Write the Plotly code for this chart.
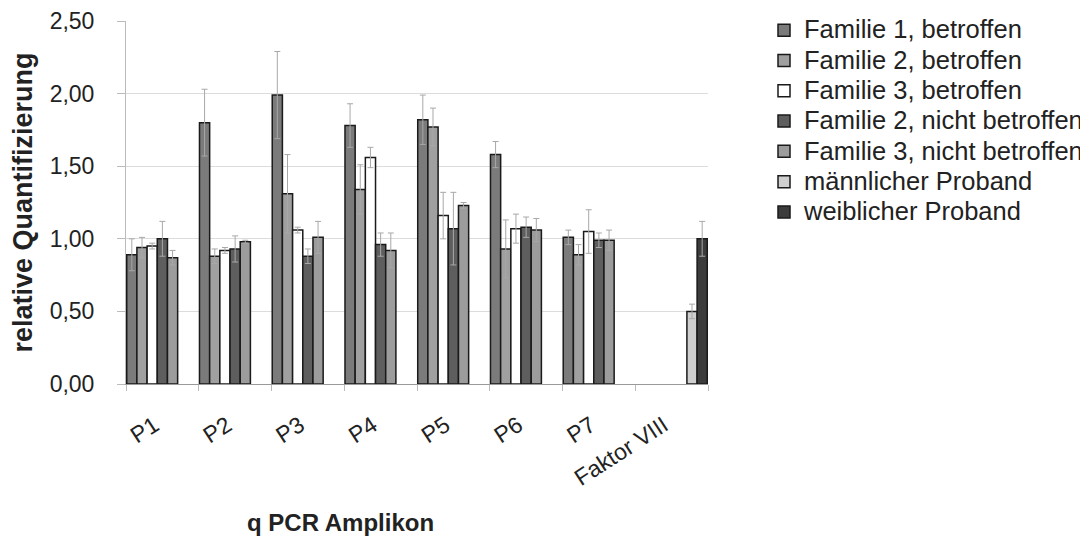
import plotly.graph_objects as go

categories = ["P1", "P2", "P3", "P4", "P5", "P6", "P7", "Faktor VIII"]

series_names = [
    "Familie 1, betroffen",
    "Familie 2, betroffen",
    "Familie 3, betroffen",
    "Familie 2, nicht betroffen",
    "Familie 3, nicht betroffen",
    "männlicher Proband",
    "weiblicher Proband",
]

fam1_betr = [0.89, 1.80, 1.99, 1.78, 1.82, 1.58, 1.01, None]
fam2_betr = [0.94, 0.88, 1.31, 1.34, 1.77, 0.93, 0.89, None]
fam3_betr = [0.95, 0.92, 1.06, 1.56, 1.16, 1.07, 1.05, None]
fam2_nicht = [1.00, 0.93, 0.88, 0.96, 1.07, 1.08, 0.99, None]
fam3_nicht = [0.87, 0.98, 1.01, 0.92, 1.23, 1.06, 0.99, None]
maennlich = [None, None, None, None, None, None, None, 0.50]
weiblich = [None, None, None, None, None, None, None, 1.00]

fam1_err = [0.11, 0.23, 0.30, 0.15, 0.17, 0.09, 0.05, None]
fam2_err = [0.07, 0.05, 0.27, 0.17, 0.13, 0.20, 0.07, None]
fam3_err = [0.02, 0.02, 0.02, 0.07, 0.16, 0.10, 0.15, None]
fam2n_err = [0.12, 0.09, 0.05, 0.08, 0.25, 0.07, 0.05, None]
fam3n_err = [0.05, 0.01, 0.11, 0.12, 0.02, 0.08, 0.07, None]
maennlich_err = [None] * 7 + [0.05]
weiblich_err = [None] * 7 + [0.12]

y_ticks = [0, 0.5, 1.0, 1.5, 2.0, 2.5]
y_tick_labels = ["0,00", "0,50", "1,00", "1,50", "2,00", "2,50"]

values = [fam1_betr, fam2_betr, fam3_betr, fam2_nicht, fam3_nicht, maennlich, weiblich]
errors = [fam1_err, fam2_err, fam3_err, fam2n_err, fam3n_err, maennlich_err, weiblich_err]
colors = ["#7b7b7b", "#a0a0a0", "#ffffff", "#5e5e5e", "#9c9c9c", "#cfcfcf", "#3c3c3c"]

fig = go.Figure()
for i, (name, vals, errs, col) in enumerate(zip(series_names, values, errors, colors)):
    fig.add_trace(go.Bar(
        x=categories, y=vals,
        name=f"<span style='font-size:25.5px'>{name}</span>",
        marker=dict(color=col, line=dict(color="#1a1a1a", width=1.5)),
        error_y=dict(type="data", array=errs, visible=True, color="#a8a8a8",
                     thickness=1, width=3),
        legendgroup=f"g{i}",
    ))

font_family = "Liberation Sans, Arial, sans-serif"

fig.update_layout(
    width=1080, height=535,
    margin=dict(l=118, r=380, t=13, b=159, autoexpand=False),
    paper_bgcolor="white", plot_bgcolor="white",
    barmode="group", bargap=0.02, bargroupgap=0,
    font=dict(family=font_family, size=23, color="#222222"),
    showlegend=True,
    legend=dict(x=(756 - 118) / 582, y=374 / 363, xanchor="left", yanchor="top",
                font=dict(size=21, color="#222222"),
                traceorder="grouped", tracegroupgap=0,
                itemwidth=30, bgcolor="rgba(0,0,0,0)"),
    xaxis=dict(
        showline=True, linecolor="#9a9a9a", linewidth=1,
        ticks="outside", tickson="boundaries", ticklen=6, tickcolor="#bbbbbb",
        tickangle=-33, tickfont=dict(size=23),
        ticklabelstandoff=18, ticklabelshift=-8,
        showgrid=False,
    ),
    yaxis=dict(
        range=[0, 2.5], tickvals=y_ticks, ticktext=y_tick_labels,
        showline=True, linecolor="#bbbbbb", linewidth=1,
        ticks="outside", ticklen=8, tickcolor="#bbbbbb",
        ticklabelstandoff=18,
        showgrid=True, gridcolor="#dcdcdc", gridwidth=1.2,
        zeroline=False,
        tickfont=dict(size=23),
        title=dict(text="<b>relative Quantifizierung</b>", font=dict(size=27), standoff=14),
    ),
    annotations=[dict(
        text="<b>q PCR Amplikon</b>", xref="paper", yref="paper",
        x=(332 - 118) / 582, y=-(514 - 376) / 363,
        xanchor="center", yanchor="middle", showarrow=False,
        font=dict(size=24, color="#222222"),
    )],
)

fig.write_html("out.html")
